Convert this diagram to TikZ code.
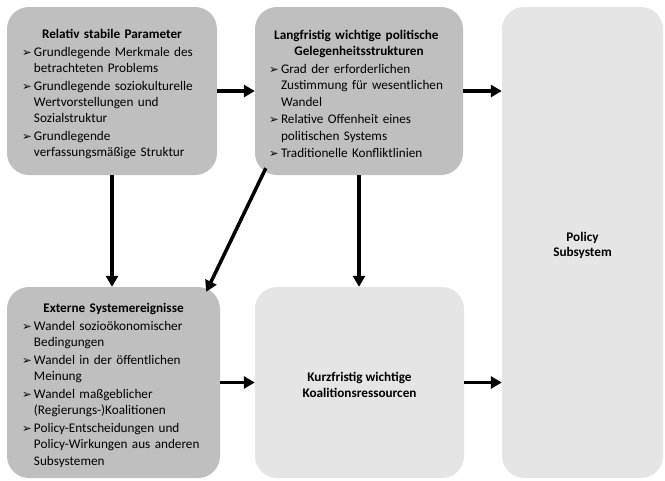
\documentclass[tikz,border=0pt]{standalone}
\usepackage{fontspec}
\setmainfont{Carlito}
\newfontfamily\symfont{DejaVu Sans}
\usepackage{tikz}
\usetikzlibrary{arrows.meta, positioning}

\newcommand{\arrbullet}{{\symfont\fontsize{11.5}{11.5}\selectfont ➢}}
\newcommand{\ptitle}[1]{{\centering\bfseries\rule{0pt}{15.5pt}#1\par}}
\newcommand{\pitem}[1]{\par\vspace{1.2pt}\hangindent=12pt\hangafter=1\noindent
  \makebox[12pt][l]{\arrbullet}#1\par}

\begin{document}
\begin{tikzpicture}[
  x=1pt, y=-1pt,
  darkbox/.style={rectangle, fill=gray!50, rounded corners=22pt,
                  inner xsep=15pt, inner ysep=4pt, align=left,
                  font=\fontsize{13.2}{16.4}\selectfont},
  lightbox/.style={rectangle, fill=gray!20, rounded corners=22pt,
                   inner sep=4pt, align=center,
                   font=\bfseries\fontsize{13.2}{15.4}\selectfont},
  flow/.style={-{Triangle[length=11pt,width=12pt]}, line width=3.5pt}
]
\useasboundingbox (0,0) rectangle (665,480);
% upper row: stable parameters and opportunity structures
\node[darkbox, minimum width=210pt, minimum height=168pt, text width=180pt]
  (Stab) at (112,91) {%
  \ptitle{Relativ stabile Parameter}
  \pitem{Grundlegende Merkmale des\newline betrachteten Problems}
  \pitem{Grundlegende soziokulturelle\newline Wertvorstellungen und\newline Sozialstruktur}
  \pitem{Grundlegende\newline verfassungsmäßige Struktur}};
\node[darkbox, minimum width=208pt, minimum height=168pt, text width=180pt,
      inner xsep=14pt]
  (Opp) at (359,91) {%
  \ptitle{Langfristig wichtige politische\newline Gelegenheitsstrukturen}
  \pitem{Grad der erforderlichen\newline Zustimmung für wesentlichen\newline Wandel}
  \pitem{Relative Offenheit eines\newline politischen Systems}
  \pitem{Traditionelle Konfliktlinien}};
% lower row: external events and short-term resources
\node[darkbox, minimum width=213pt, minimum height=191pt, text width=183pt]
  (Ext) at (113.5,382.5) {%
  \ptitle{Externe Systemereignisse}
  \pitem{Wandel sozioökonomischer\newline Bedingungen}
  \pitem{Wandel in der öffentlichen\newline Meinung}
  \pitem{Wandel maßgeblicher\newline (Regierungs-)Koalitionen}
  \pitem{Policy-Entscheidungen und\newline Policy-Wirkungen aus anderen\newline Subsystemen}};
\node[lightbox, minimum width=209pt, minimum height=191pt]
  (Res) at (359.5,382.5) {\rule{0pt}{14pt}Kurzfristig wichtige\\Koalitionsressourcen};
% subsystem (right)
\node[lightbox, minimum width=161pt, minimum height=471pt]
  (Sub) at (582.5,242.5) {\rule{0pt}{15pt}Policy\\Subsystem};
% arrows
\draw[flow] (Stab.east) -- (Opp.west);
\draw[flow] (Opp.east) -- (Opp.east -| Sub.west);
\draw[flow] (Stab.south) -- (Stab.south |- Ext.north);
\draw[flow] ([xshift=11pt,yshift=7pt]Opp.south west)
  -- ([xshift=-14pt,yshift=-5pt]Ext.north east);
\draw[flow] (Opp.south) -- (Opp.south |- Res.north);
\draw[flow] (Ext.east) -- (Res.west);
\draw[flow] (Res.east) -- (Res.east -| Sub.west);
\end{tikzpicture}
\end{document}
